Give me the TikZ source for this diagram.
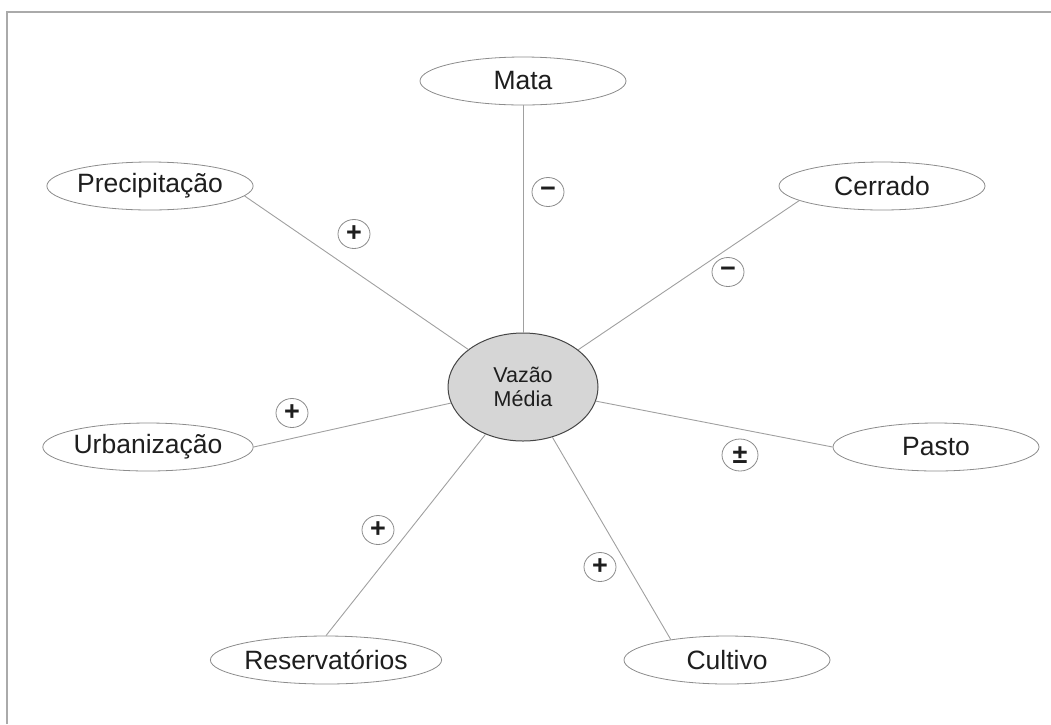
\documentclass[tikz,border=0pt]{standalone}
\usepackage{fontspec}
\setmainfont{Liberation Sans}
\usetikzlibrary{shapes.geometric}
\definecolor{linkgray}{RGB}{160,160,160}
\definecolor{rimgray}{RGB}{140,140,140}
\definecolor{framegray}{RGB}{170,170,170}
\definecolor{hubfill}{RGB}{214,214,214}
\definecolor{hubrim}{RGB}{70,70,70}
\definecolor{inkgray}{RGB}{30,30,30}

\begin{document}
\begin{tikzpicture}[x=1pt,y=-1pt,
leaf/.style={ellipse, draw=rimgray, line width=0.8pt, fill=white,
minimum width=206pt, minimum height=48pt, inner sep=0pt, text=inkgray,
font=\fontsize{26.5}{30}\selectfont},
hub/.style={ellipse, draw=hubrim, line width=1pt, fill=hubfill,
minimum width=150pt, minimum height=108pt, inner sep=0pt, align=center,
text=inkgray, font=\fontsize{21.5}{24}\selectfont},
sign/.style={ellipse, draw=rimgray, line width=0.8pt, fill=white,
minimum width=32pt, minimum height=29pt, inner sep=0pt, text=inkgray,
font=\bfseries\fontsize{27}{27}\selectfont},
link/.style={draw=linkgray, line width=0.9pt}
]
\useasboundingbox (0,0) rectangle (1051,724);
\draw[framegray, line width=1.2pt] (7,724) -- (7,12) -- (1051,12);

\node[hub] (vazao) at (523,387) {Vazão\\Média};

\node[leaf] (mata) at (523,81) {Mata};
\node[leaf] (prec) at (150,186) {Precipitação};
\node[leaf] (cerr) at (882,186) {Cerrado};
\node[leaf] (urb) at (148,447) {Urbanização};
\node[leaf] (past) at (936,447) {Pasto};
\node[leaf] (res) at (326,660) {Reservatórios};
\node[leaf] (cult) at (727,660) {Cultivo};

\draw[link] (mata.south) -- (vazao);
\draw[link] (prec.-6) -- (vazao);
\draw[link] (cerr.190) -- (vazao);
\draw[link] (urb.east) -- (vazao);
\draw[link] (past.west) -- (vazao);
\draw[link] (res.north) -- (vazao);
\draw[link] (cult.160) -- (vazao);

% sinais
\node[sign] (smata) at (548,192) {−};
\node[sign] (sprec) at (354,234) {+};
\node[sign] (scerr) at (728,272) {−};
\node[sign] (surb) at (292,413) {+};
\node[sign, minimum width=36pt, minimum height=32pt] (spast) at (740,455) {±};
\node[sign] (sres) at (378,530) {+};
\node[sign] (scult) at (600,567) {+};

\end{tikzpicture}
\end{document}
